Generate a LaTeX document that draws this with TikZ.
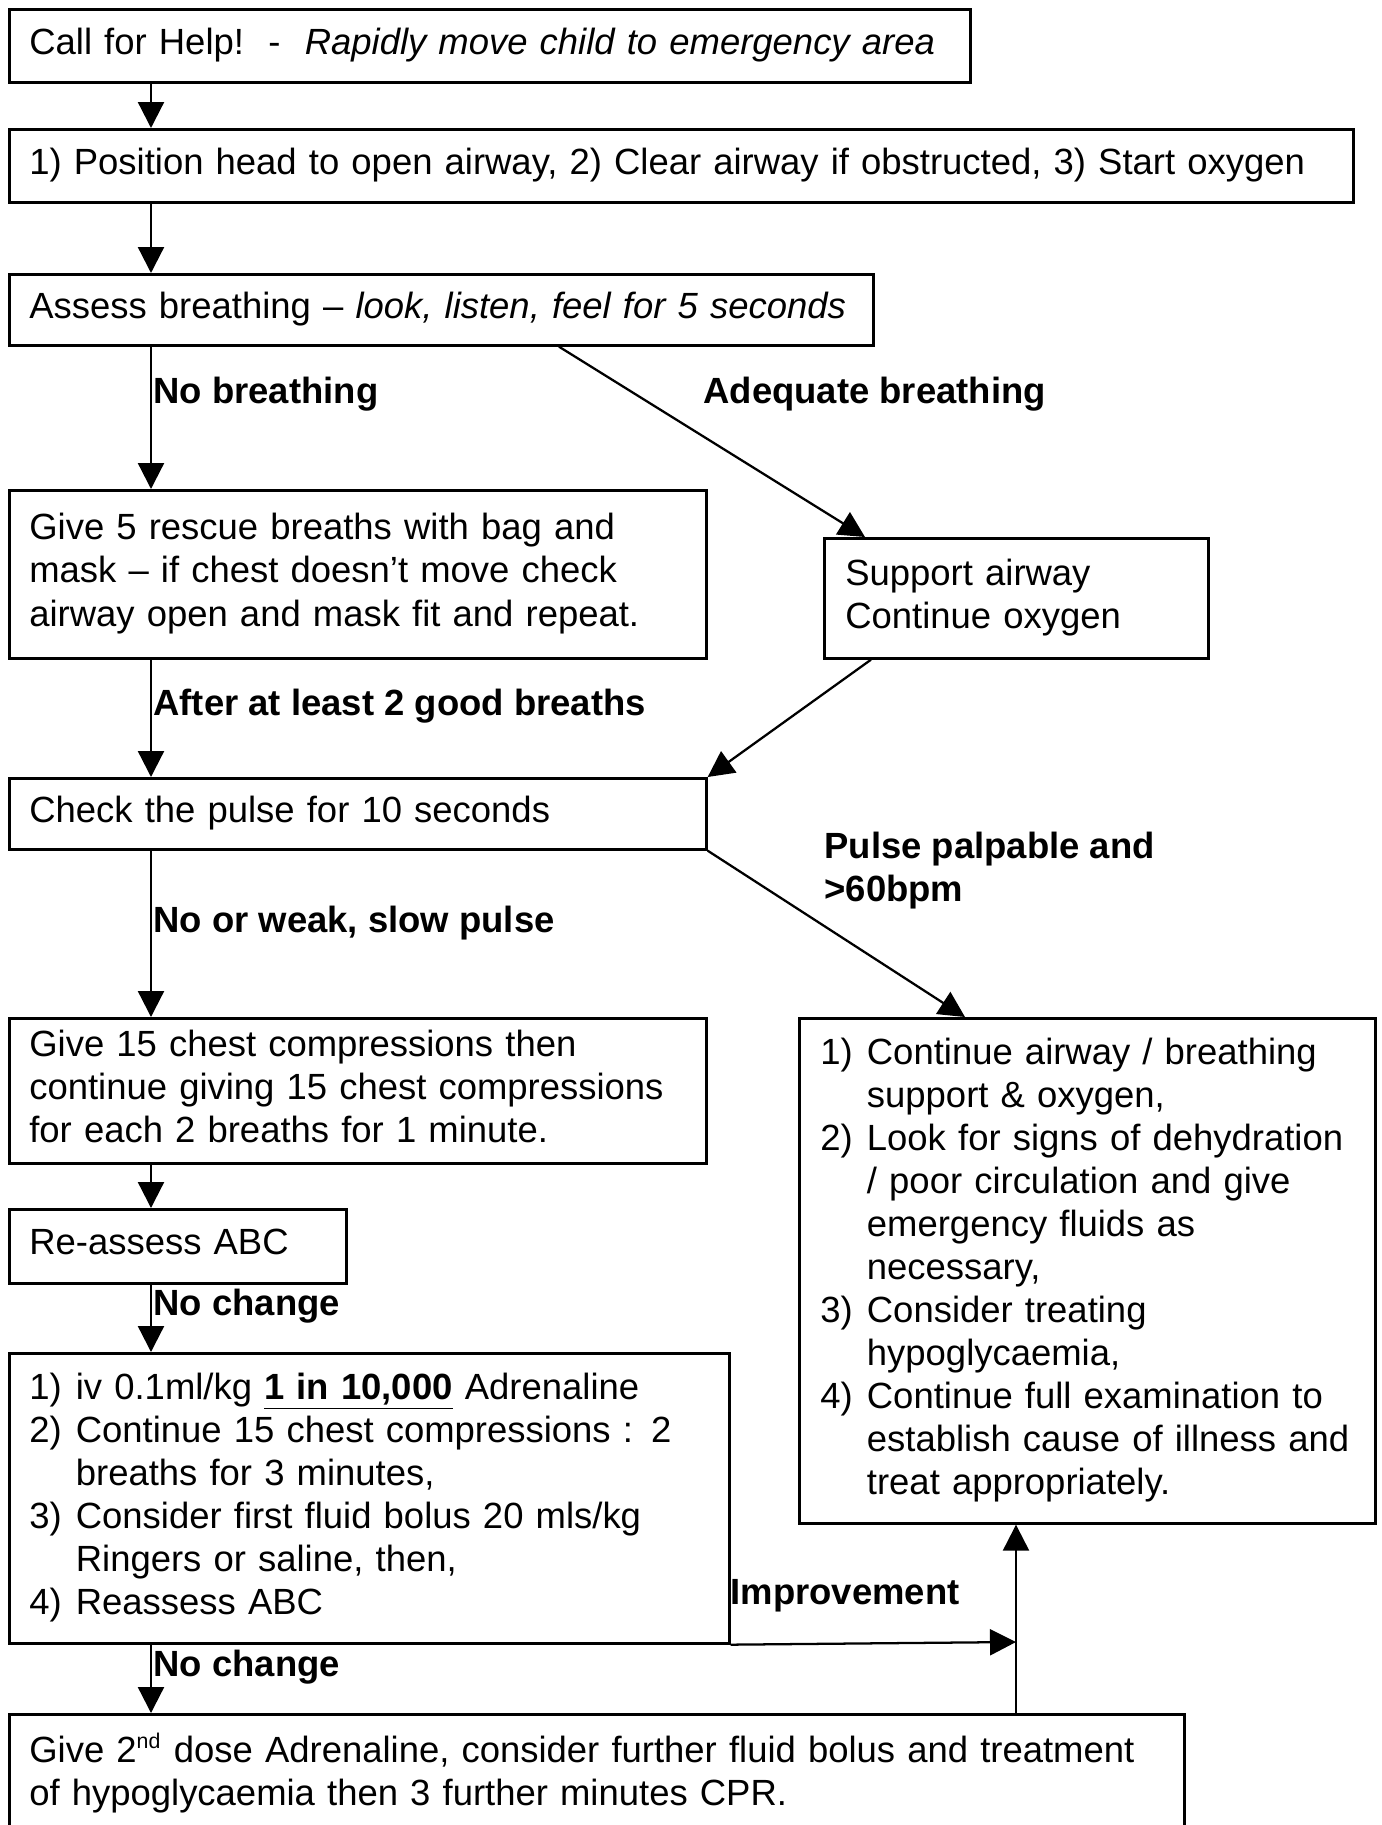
\documentclass[tikz,border=0pt]{standalone}
\usepackage{fontspec}
\setmainfont{Liberation Sans}
\usetikzlibrary{arrows.meta}
\begin{document}
\begin{tikzpicture}[x=0.375pt,y=-0.375pt,
  txt/.style={font=\fontsize{13.67pt}{16.15pt}\selectfont},
  box/.style={txt,draw,line width=1pt,anchor=north west,align=left,inner xsep=7.5pt,inner ysep=0pt},
  lbl/.style={font=\fontsize{13.67pt}{16.15pt}\selectfont\bfseries,inner sep=0pt,anchor=base west},
  arr/.style={line width=0.85pt,-{Triangle[length=9.75pt,width=9.75pt]}}]
\useasboundingbox (0,0) rectangle (1382,1825);
\clip (0,0) rectangle (1382,1825);
% x positions
\coordinate (cx) at (151,0);
\coordinate (cxa) at (559,0);
\coordinate (cxb) at (865,0);
\coordinate (cxc) at (871,0);
\coordinate (cxd) at (965,0);
\coordinate (cimp) at (1016,1642);
% boxes
\node[box,minimum width=360.375pt,text width=345.375pt,minimum height=27.375pt] (b1) at (8,8)
  {\begin{tabular}{@{}l@{}}Call for Help!\ \ -\ \ \textit{Rapidly move child to emergency area}\end{tabular}};
\node[box,minimum width=504pt,text width=489pt,minimum height=27.375pt] (b2) at (8,128)
  {\begin{tabular}{@{}l@{}}1) Position head to open airway, 2) Clear airway if obstructed, 3) Start oxygen\end{tabular}};
\node[box,minimum width=324pt,text width=309pt,minimum height=26.625pt] (b3) at (8,273)
  {\begin{tabular}{@{}l@{}}Assess breathing – \textit{look, listen, feel for 5 seconds}\end{tabular}};
\node[box,minimum width=261.375pt,text width=246.375pt,minimum height=63pt] (b4) at (8,489)
  {\begin{tabular}{@{}l@{}}Give 5 rescue breaths with bag and\\mask – if chest doesn’t move check\\airway open and mask fit and repeat.\end{tabular}};
\node[box,inner xsep=7.875pt,minimum width=144pt,text width=128.25pt,minimum height=45pt] (b5) at (823,537)
  {\begin{tabular}{@{}l@{}}Support airway\\Continue oxygen\end{tabular}};
\node[box,minimum width=261.375pt,text width=246.375pt,minimum height=26.625pt] (b6) at (8,777)
  {\begin{tabular}{@{}l@{}}Check the pulse for 10 seconds\end{tabular}};
\node[box,minimum width=261.375pt,text width=246.375pt,minimum height=54.375pt] (b7) at (8,1017)
  {\begin{tabular}{@{}l@{}}Give 15 chest compressions then\\continue giving 15 chest compressions\\for each 2 breaths for 1 minute.\end{tabular}};
\node[box,inner xsep=7.9pt,minimum width=216pt,text width=200.2pt,minimum height=189.375pt] (br) at (798,1017)
  {\begin{tabular}{@{}l@{\hspace{5.3pt}}l@{}}1) & Continue airway / breathing\\
   & support \& oxygen,\\
   2) & Look for signs of dehydration\\
   & / poor circulation and give\\
   & emergency fluids as\\
   & necessary,\\
   3) & Consider treating\\
   & hypoglycaemia,\\
   4) & Continue full examination to\\
   & establish cause of illness and\\
   & treat appropriately.\end{tabular}};
\node[box,minimum width=126.375pt,text width=111.375pt,minimum height=27.75pt] (b8) at (8,1208)
  {\begin{tabular}{@{}l@{}}Re-assess ABC\end{tabular}};
\node[box,minimum width=270pt,text width=255pt,minimum height=108.75pt] (b9) at (8,1352)
  {\begin{tabular}{@{}l@{\hspace{5.3pt}}l@{}}1) & iv 0.1ml/kg \textbf{\underline{1 in 10,000}} Adrenaline\\
   2) & Continue 15 chest compressions : 2\\
   & breaths for 3 minutes,\\
   3) & Consider first fluid bolus 20 mls/kg\\
   & Ringers or saline, then,\\
   4) & Reassess ABC\end{tabular}};
\node[box,minimum width=440.625pt,text width=425.625pt,minimum height=45.75pt] (b10) at (8,1713)
  {\begin{tabular}{@{}l@{}}Give 2\textsuperscript{\fontsize{8pt}{8pt}\selectfont nd} dose Adrenaline, consider further fluid bolus and treatment\\of hypoglycaemia then 3 further minutes CPR.\end{tabular}};
% labels
\node[lbl] (l1) at (153,403) {No breathing};
\node[lbl] (l2) at (703,403) {Adequate breathing};
\node[lbl] (l3) at (153,715) {After at least 2 good breaths};
\node[lbl] (l4) at (153,932) {No or weak, slow pulse};
\node[lbl] (l5a) at (824,858) {Pulse palpable and};
\node[lbl] (l5b) at (824,901) {>60bpm};
\node[lbl] (l6) at (153,1315) {No change};
\node[lbl] (l7) at (730,1604) {Improvement};
\node[lbl] (l8) at (153,1676) {No change};
% connectors
\draw[arr] (b1.south -| cx) -- (b2.north -| cx);
\draw[arr] (b2.south -| cx) -- (b3.north -| cx);
\draw[arr] (b3.south -| cx) -- (b4.north -| cx);
\draw[arr] (b3.south -| cxa) -- (b5.north -| cxb);
\draw[arr] (b4.south -| cx) -- (b6.north -| cx);
\draw[arr] (b5.south -| cxc) -- (b6.north east);
\draw[arr] (b6.south -| cx) -- (b7.north -| cx);
\draw[arr] (b6.south east) -- (br.north -| cxd);
\draw[arr] (b7.south -| cx) -- (b8.north -| cx);
\draw[arr] (b8.south -| cx) -- (b9.north -| cx);
\draw[arr] (b9.south -| cx) -- (b10.north -| cx);
\draw[arr] (b9.south east) -- (cimp);
\draw[arr] (b10.north -| cimp) -- (br.south -| cimp);
\end{tikzpicture}
\end{document}
